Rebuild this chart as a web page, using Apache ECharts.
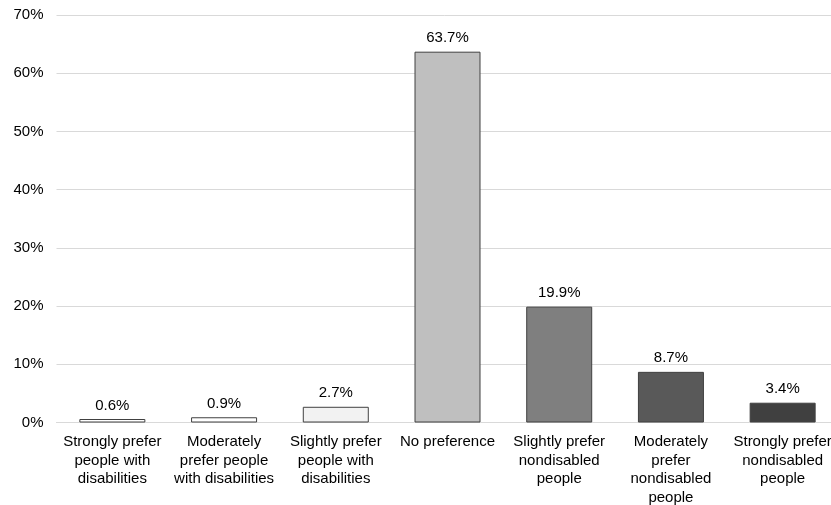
<!DOCTYPE html>
<html><head><meta charset="utf-8">
<script src="https://cdn.jsdelivr.net/npm/echarts@6/dist/echarts.min.js"></script>
<style>html,body{margin:0;padding:0;background:#fff;overflow:hidden}#c{width:831px;height:505px}</style>
</head><body><div id="c"></div>
<script>
const categories = [
  "Strongly prefer\npeople with\ndisabilities",
  "Moderately\nprefer people\nwith disabilities",
  "Slightly prefer\npeople with\ndisabilities",
  "No preference",
  "Slightly prefer\nnondisabled\npeople",
  "Moderately\nprefer\nnondisabled\npeople",
  "Strongly prefer\nnondisabled\npeople"
];
const values = [0.6, 0.9, 2.7, 63.7, 19.9, 8.7, 3.4];
const barColors = ["#ffffff", "#ffffff", "#f2f2f2", "#bfbfbf", "#7f7f7f", "#595959", "#404040"];

const FONT = 'Liberation Sans, Arial, sans-serif';
const chart = echarts.init(document.getElementById('c'), null, {renderer: 'canvas'});
chart.setOption({
  animation: false,
  grid: {left: 56.5, width: 782, top: 15, height: 407.5, containLabel: false, outerBoundsMode: 'none'},
  xAxis: {
    type: 'category', data: categories,
    axisTick: {show: false},
    axisLine: {lineStyle: {color: '#d9d9d9', width: 1}},
    axisLabel: {interval: 0, color: '#000', fontFamily: FONT, fontSize: 15, lineHeight: 18.5, margin: 10.5}
  },
  yAxis: {
    type: 'value', min: 0, max: 70, interval: 10,
    axisLine: {show: false}, axisTick: {show: false},
    splitLine: {lineStyle: {color: '#d9d9d9', width: 1}},
    axisLabel: {formatter: '{value}%', color: '#000', fontFamily: FONT, fontSize: 15, margin: 13}
  },
  series: [{
    type: 'bar',
    barWidth: 66,
    data: values.map((v, i) => ({value: v, itemStyle: {color: barColors[i]}})),
    itemStyle: {borderColor: '#404040', borderWidth: 1},
    label: {show: true, position: 'top', distance: 6, formatter: p => p.value.toFixed(1) + '%', color: '#000', fontFamily: FONT, fontSize: 15}
  }]
});
</script></body></html>
